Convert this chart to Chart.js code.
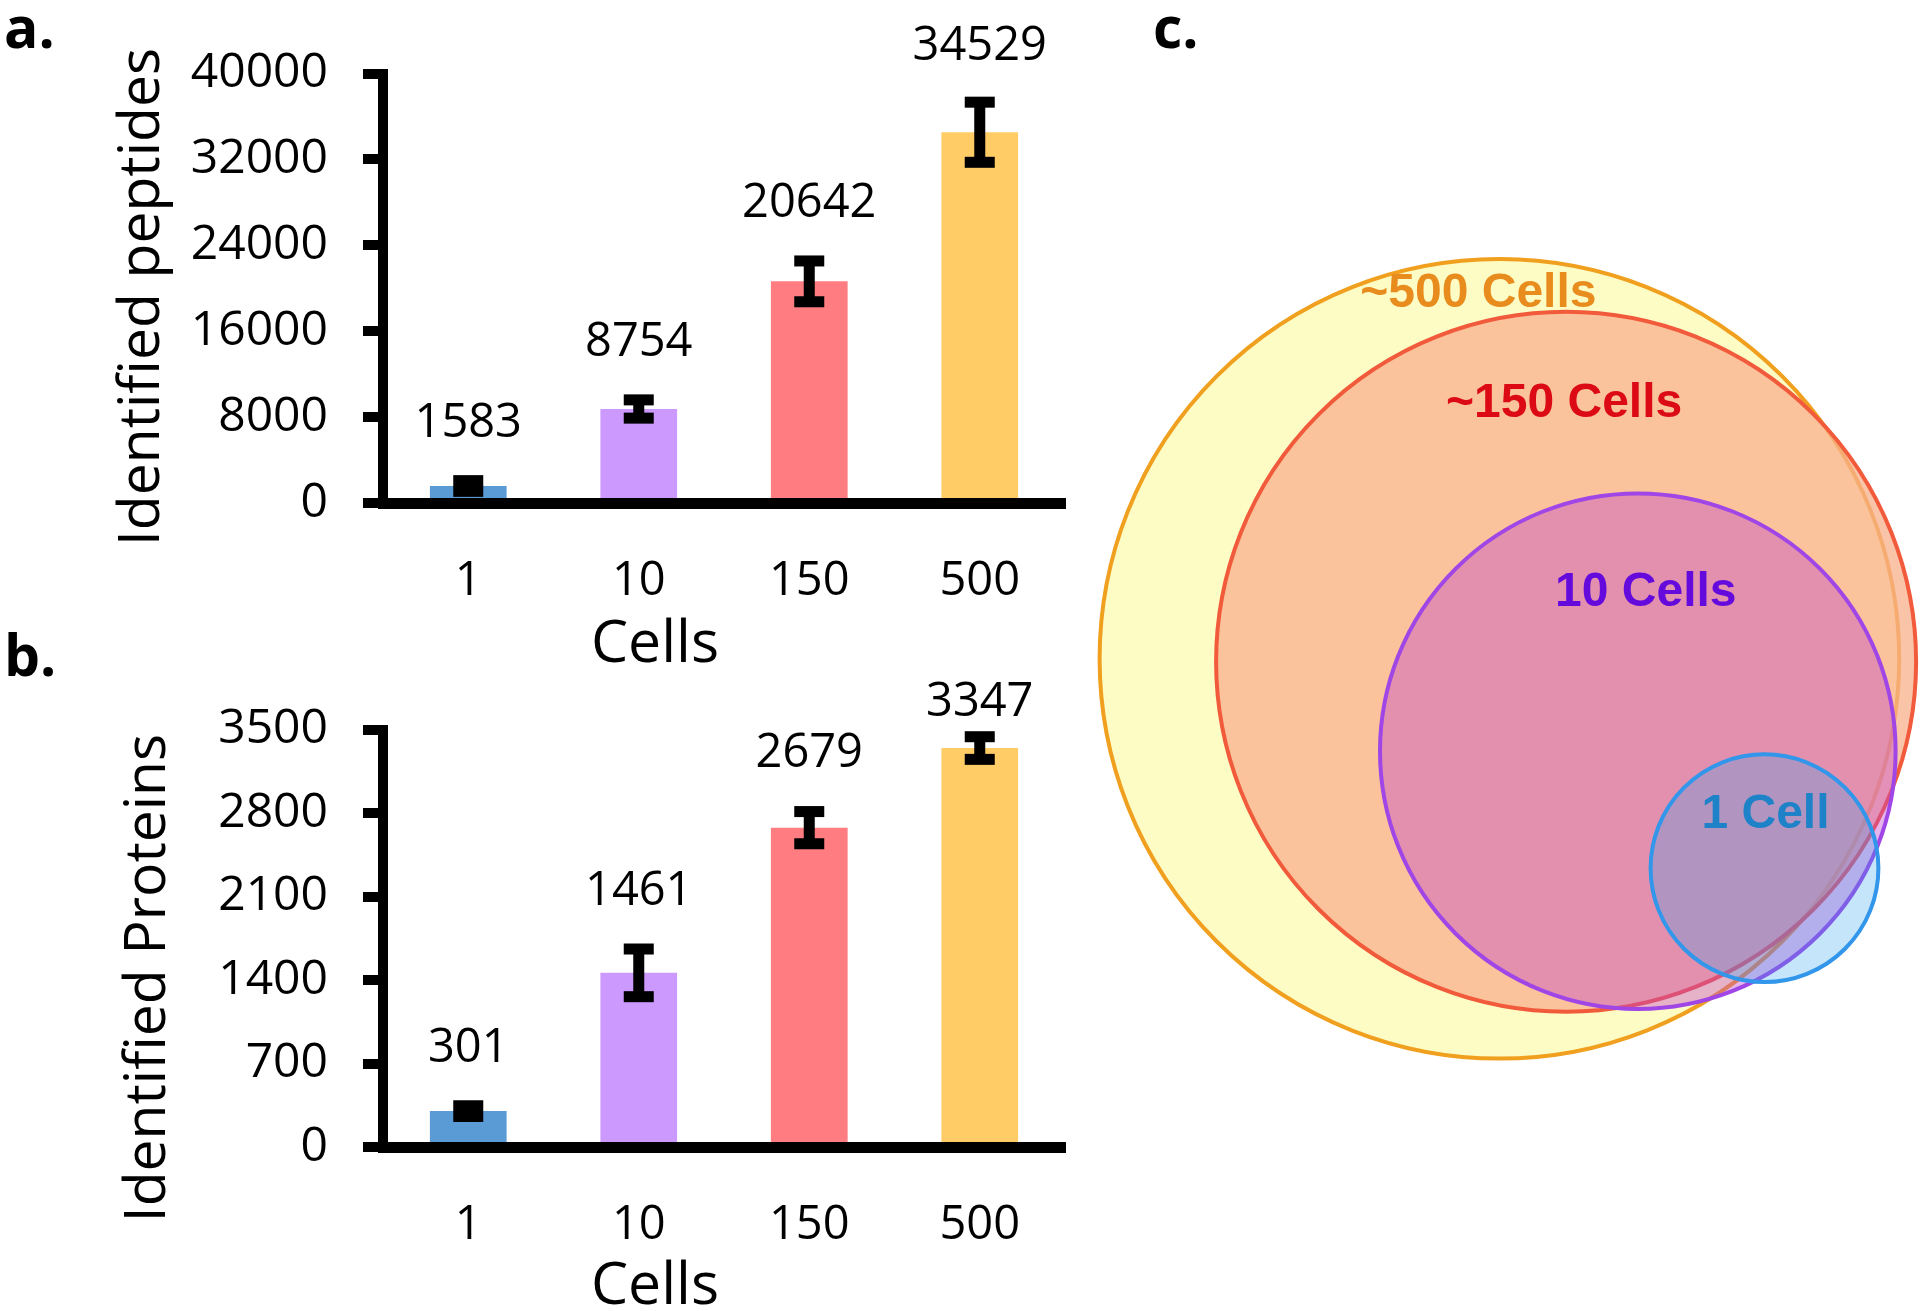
<!DOCTYPE html>
<html><head><meta charset="utf-8">
<script src="https://cdn.jsdelivr.net/npm/chart.js@4.4.1/dist/chart.umd.min.js"></script>
<style>
html,body{margin:0;padding:0;background:#fff;width:1920px;height:1311px;overflow:hidden;}
canvas{position:absolute;}
.pl{position:absolute;font-family:"Open Sans",sans-serif;font-weight:700;font-size:57px;line-height:57px;color:#000;}
</style></head><body>
<div class="pl" style="left:4px;top:-2px">a.</div>
<div class="pl" style="left:4px;top:626px">b.</div>
<div class="pl" style="left:1153px;top:-2px">c.</div>
<canvas id="cc" width="830" height="1311" style="left:1090px;top:0"></canvas>
<canvas id="ca" width="1090" height="680" style="left:0;top:0"></canvas>
<canvas id="cb" width="1090" height="671" style="left:0;top:640px"></canvas>
<script>
// ---- data ----
const cells = ['1', '10', '150', '500'];
const peptides = [1583, 8754, 20642, 34529];
const peptideErr = [500, 850, 1900, 2800];
const peptideAxisMax = 40000;
const peptideTickStep = 8000;
const proteins = [301, 1461, 2679, 3347];
const proteinErr = [45, 200, 135, 95];
const proteinAxisMax = 3500;
const proteinTickStep = 700;
const barColors = ['#5B9BD5', '#CC99FF', '#FF7C80', '#FFCC66'];

const vennLabels = ['~500 Cells', '~150 Cells', '10 Cells', '1 Cell'];
const vennX = [40.94, 47.61, 54.78, 67.45];
const vennY = [65.22, 64.92, 55.98, 44.28];
const vennR = [39.98, 35.0, 25.78, 11.39];

// ---- plugins ----
const NUM_FONT = '47px "Open Sans", sans-serif';
const barExtras = {
  id: 'barExtras',
  afterDatasetsDraw(chart, args, o) {
    const ctx = chart.ctx, meta = chart.getDatasetMeta(0), ys = chart.scales.y;
    const vals = chart.data.datasets[0].data;
    ctx.save();
    meta.data.forEach((bar, i) => {
      const v = vals[i], e = o.errors[i];
      const yt = ys.getPixelForValue(v + e), yb = ys.getPixelForValue(v - e);
      const x = bar.x;
      ctx.fillStyle = '#000';
      ctx.fillRect(x - o.stemWidth / 2, yt, o.stemWidth, yb - yt);
      ctx.fillRect(x - o.capWidth / 2, yt - o.capThick / 2, o.capWidth, o.capThick);
      ctx.fillRect(x - o.capWidth / 2, yb - o.capThick / 2, o.capWidth, o.capThick);
      let ly = yt - o.capThick / 2 - o.labelGap;
      ly = Math.max(ly, chart.chartArea.top - o.topLimit);
      ctx.font = NUM_FONT;
      ctx.textAlign = 'center';
      ctx.textBaseline = 'middle';
      ctx.fillText(String(v), x, ly);
    });
    ctx.restore();
  }
};
const freeText = {
  id: 'freeText',
  afterDraw(chart, args, o) {
    const ctx = chart.ctx;
    (o.items || []).forEach(it => {
      ctx.save();
      ctx.font = it.font;
      ctx.fillStyle = it.color || '#000';
      ctx.textAlign = 'center';
      ctx.textBaseline = it.baseline || 'middle';
      ctx.translate(it.x, it.y);
      if (it.rotate) ctx.rotate(it.rotate);
      ctx.fillText(it.text, 0, 0);
      ctx.restore();
    });
  }
};

function barChart(id, values, errs, axisMax, step, padTop, xHeight, title, titlePos, cellsBaseline) {
  return new Chart(document.getElementById(id), {
    type: 'bar',
    data: {
      labels: cells,
      datasets: [{ data: values, backgroundColor: barColors, borderWidth: 0,
        barPercentage: 0.45, categoryPercentage: 1.0 }]
    },
    options: {
      responsive: false, animation: false, events: [], devicePixelRatio: 1,
      layout: { padding: { left: 0, right: 25, top: padTop, bottom: 0 } },
      plugins: {
        legend: { display: false }, tooltip: { enabled: false },
        barExtras: { errors: errs, stemWidth: 11, capWidth: 30, capThick: 11, labelGap: 52, topLimit: 27 },
        freeText: { items: [
          { text: title, x: titlePos[0], y: titlePos[1], rotate: -Math.PI / 2, font: '57px "Open Sans", sans-serif' },
          { text: 'Cells', x: 655, y: cellsBaseline, baseline: 'alphabetic', font: '59px "Open Sans", sans-serif' }
        ] }
      },
      scales: {
        x: {
          grid: { display: true, drawOnChartArea: false, drawTicks: false },
          border: { display: true, color: '#000', width: 11 },
          ticks: { color: '#000', font: { family: 'Open Sans', size: 47 }, padding: 50 },
          afterFit(s) { s.height = xHeight; }
        },
        y: {
          min: 0, max: axisMax,
          grid: { display: true, drawOnChartArea: false, drawTicks: true, tickLength: 20,
            lineWidth: 10, tickWidth: 10, color: '#000', tickColor: '#000' },
          border: { display: true, color: '#000', width: 10 },
          ticks: { stepSize: step, color: '#000', font: { family: 'Open Sans', size: 48 }, padding: 35,
            callback: (v) => String(v) },
          afterFit(s) { s.width = 383; }
        }
      }
    },
    plugins: [barExtras, freeText]
  });
}

barChart('ca', peptides, peptideErr, peptideAxisMax, peptideTickStep, 73.5, 177,
  'Identified peptides', [143, 297], 662);
barChart('cb', proteins, proteinErr, proteinAxisMax, proteinTickStep, 89.8, 164,
  'Identified Proteins', [149, 338], 664);

// ---- Venn (bubble) ----
const vennLabelPlugin = {
  id: 'vennLabels',
  afterDatasetsDraw(chart, args, o) {
    const ctx = chart.ctx, meta = chart.getDatasetMeta(0);
    ctx.save();
    ctx.font = 'bold 48px "Liberation Sans", Arial, sans-serif';
    ctx.textAlign = 'center';
    ctx.textBaseline = 'middle';
    meta.data.forEach((pt, i) => {
      ctx.fillStyle = o.colors[i];
      ctx.fillText(vennLabels[i], pt.x + o.offsets[i][0], pt.y + o.offsets[i][1]);
    });
    ctx.restore();
  }
};
const venn = new Chart(document.getElementById('cc'), {
  type: 'bubble',
  data: {
    datasets: [{
      data: vennX.map((x, i) => ({ x: x, y: vennY[i] })),
      backgroundColor: ['rgb(253,252,197)', 'rgba(248,176,140,0.75)', 'rgba(192,68,204,0.4)', 'rgba(48,162,237,0.28)'],
      borderColor: ['#F0A01E', '#F25A3C', '#A046E6', '#3296EB'],
      borderWidth: 4,
      clip: false
    }]
  },
  options: {
    responsive: false, animation: false, events: [], devicePixelRatio: 1,
    layout: { padding: 0, autoPadding: false },
    plugins: {
      legend: { display: false }, tooltip: { enabled: false },
      vennLabels: {
        colors: ['#E88C1E', '#DC0A14', '#640ADC', '#1E82C8'],
        offsets: [[-21, -365], [-2, -258], [8, -158], [1, -53]]
      }
    },
    scales: {
      x: { type: 'linear', min: 0, max: 83, display: false },
      y: { type: 'linear', min: 0, max: 131.1, display: false }
    }
  },
  plugins: [vennLabelPlugin]
});
// convert circle radii from data units to pixels through the library's x scale
(function () {
  const xs = venn.scales.x;
  venn.data.datasets[0].data.forEach((d, i) => {
    d.r = xs.getPixelForValue(vennR[i]) - xs.getPixelForValue(0);
  });
  venn.update();
})();
</script>
</body></html>
